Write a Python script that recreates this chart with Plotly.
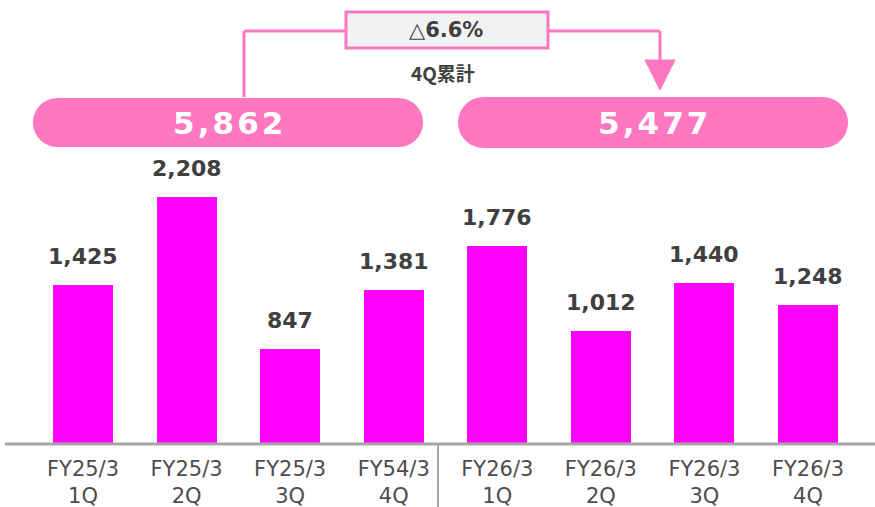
import plotly.graph_objects as go

# ---- data ----
categories = ["FY25/3<br>1Q", "FY25/3<br>2Q", "FY25/3<br>3Q", "FY54/3<br>4Q",
              "FY26/3<br>1Q", "FY26/3<br>2Q", "FY26/3<br>3Q", "FY26/3<br>4Q"]
values = [1425, 2208, 847, 1381, 1776, 1012, 1440, 1248]
totals = [5862, 5477]
change_symbol = "△"
change_value = "6.6%"
total_caption = "4Q累計"

W, H = 875, 507
BASE = 444                   # baseline in px
MB = H - BASE                # bottom margin
PH = BASE                    # plot height (t=0)

BAR = "#FF00FF"
PINK = "#FF77C1"
DARK = "#404040"
GREY = "#A6A6A6"

def px(xr):
    return xr / W

def py(yr):
    return (PH - yr) / PH

x_idx = list(range(len(values)))

fig = go.Figure()
fig.add_trace(go.Bar(x=x_idx, y=values, marker=dict(color=BAR, line=dict(width=0)),
                     width=0.58, hoverinfo="skip"))

for i, v in zip(x_idx, values):
    fig.add_annotation(x=i, y=v, text=f"<b>{v:,}</b>", showarrow=False,
                       yanchor="bottom", yshift=14,
                       font=dict(family="DejaVu Sans", size=22, color=DARK))

shapes = []

def pill(x0, x1, y0, y1):
    r = (y1 - y0) / 2
    k = 0.55 * r
    ym = (y0 + y1) / 2
    pts = [
        f"M{px(x0 + r)},{py(y0)}",
        f"L{px(x1 - r)},{py(y0)}",
        f"C{px(x1 - r + k)},{py(y0)} {px(x1)},{py(ym - k)} {px(x1)},{py(ym)}",
        f"C{px(x1)},{py(ym + k)} {px(x1 - r + k)},{py(y1)} {px(x1 - r)},{py(y1)}",
        f"L{px(x0 + r)},{py(y1)}",
        f"C{px(x0 + r - k)},{py(y1)} {px(x0)},{py(ym + k)} {px(x0)},{py(ym)}",
        f"C{px(x0)},{py(ym - k)} {px(x0 + r - k)},{py(y0)} {px(x0 + r)},{py(y0)} Z",
    ]
    return dict(type="path", xref="paper", yref="paper", path=" ".join(pts),
                fillcolor=PINK, line=dict(width=0), layer="above")

pills = [(33, 423, 98, 147), (458, 848, 97, 148)]
for (x0, x1, y0, y1), t in zip(pills, totals):
    shapes.append(pill(x0, x1, y0, y1))
    txt = "\u200a".join(f"{t:,}")
    fig.add_annotation(xref="paper", yref="paper", x=px((x0 + x1) / 2), y=py((y0 + y1) / 2),
                       text=f"<b>{txt}</b>", showarrow=False, xanchor="center", yanchor="middle",
                       font=dict(family="DejaVu Sans", size=31, color="white"))

conn = dict(color=PINK, width=3)
shapes.append(dict(type="line", xref="paper", yref="paper", x0=px(244), x1=px(244),
                   y0=py(97), y1=py(31), line=conn))
shapes.append(dict(type="line", xref="paper", yref="paper", x0=px(244), x1=px(346),
                   y0=py(31), y1=py(31), line=conn))
shapes.append(dict(type="line", xref="paper", yref="paper", x0=px(548), x1=px(660),
                   y0=py(31), y1=py(31), line=conn))
shapes.append(dict(type="line", xref="paper", yref="paper", x0=px(660), x1=px(660),
                   y0=py(31), y1=py(62), line=conn))
shapes.append(dict(type="path", xref="paper", yref="paper",
                   path=f"M{px(645)},{py(60)} L{px(675)},{py(60)} L{px(660)},{py(90)} Z",
                   fillcolor=PINK, line=dict(color=PINK, width=1)))
shapes.append(dict(type="rect", xref="paper", yref="paper", x0=px(346), x1=px(548),
                   y0=py(12), y1=py(48), fillcolor="#F2F2F2", line=dict(color=PINK, width=3)))
fig.add_annotation(xref="paper", yref="paper", x=px(446), y=py(30),
                   text=f"{change_symbol}<b>{change_value}</b>",
                   showarrow=False, xanchor="center", yanchor="middle",
                   font=dict(family="DejaVu Sans", size=21, color=DARK))
fig.add_annotation(xref="paper", yref="paper", x=px(443), y=py(72), text=f"<b>{total_caption}</b>",
                   showarrow=False, xanchor="center", yanchor="middle",
                   font=dict(family="Noto Sans CJK JP", size=19, color=DARK))

shapes.append(dict(type="line", xref="paper", yref="paper", x0=px(5), x1=1,
                   y0=py(444), y1=py(444), line=dict(color=GREY, width=3)))
shapes.append(dict(type="line", xref="paper", yref="paper", x0=px(438), x1=px(438),
                   y0=py(444), y1=py(507), line=dict(color=GREY, width=2)))

c0, step = 83.0, 103.57
xmin = (0 - c0) / step
xmax = (W - c0) / step
ppu = 0.1117
ymax = PH / ppu

fig.update_layout(
    width=W, height=H,
    margin=dict(l=0, r=0, t=0, b=MB),
    paper_bgcolor="white", plot_bgcolor="white",
    showlegend=False,
    shapes=shapes,
    bargap=0,
    xaxis=dict(range=[xmin, xmax], tickmode="array", tickvals=x_idx, ticktext=categories,
               showgrid=False, zeroline=False, showline=False, ticks="",
               ticklabelstandoff=10,
               tickfont=dict(family="DejaVu Sans", size=21, color="#4D4D4D"),
               fixedrange=True),
    yaxis=dict(range=[0, ymax], visible=False, fixedrange=True),
)

fig.write_html("out.html", config={"displayModeBar": False, "staticPlot": True},
               post_script="document.body.style.margin='0';document.body.style.overflow='hidden';")
